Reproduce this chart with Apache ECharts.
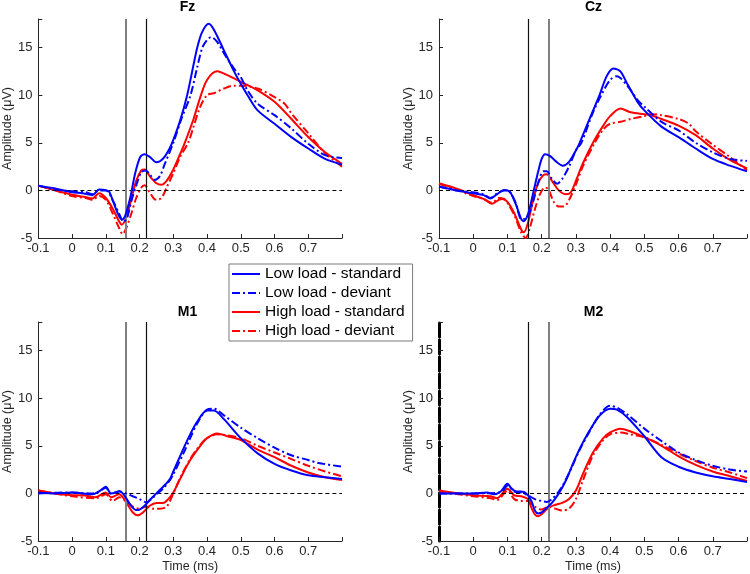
<!DOCTYPE html>
<html>
<head>
<meta charset="utf-8">
<script src="https://cdn.jsdelivr.net/npm/echarts@6/dist/echarts.min.js"></script>
<style>
html,body{margin:0;padding:0;background:#fff;}
#chart{width:750px;height:574px;}
</style>
</head>
<body>
<div id="chart"></div>
<script>
// ---------- Data (time in s, amplitude in µV) ----------
const panelTitles = ['Fz', 'Cz', 'M1', 'M2'];
const seriesNames = ['Low load - standard', 'Low load - deviant', 'High load - standard', 'High load - deviant'];
const xTicks = [-0.1, 0, 0.1, 0.2, 0.3, 0.4, 0.5, 0.6, 0.7];
const yTicks = [-5, 0, 5, 10, 15];
const markerTimes = [0.16, 0.22];

// Fz
const fzLowStd = [[-0.1,0.5],[-0.05,0.2],[0,-0.2],[0.03,-0.3],[0.06,-0.5],[0.08,0.1],[0.1,0.03],[0.11,-0.15],[0.124,-1.4],[0.139,-2.7],[0.149,-3.05],[0.158,-2.6],[0.173,-0.67],[0.187,1.8],[0.202,3.5],[0.215,3.8],[0.231,3.5],[0.25,2.95],[0.27,3.35],[0.289,4.4],[0.3,5.3],[0.32,7.3],[0.341,10.0],[0.36,13.2],[0.371,15.0],[0.385,16.6],[0.405,17.5],[0.42,16.9],[0.45,14.7],[0.48,12.5],[0.5,11.2],[0.52,10.0],[0.55,8.4],[0.6,7.0],[0.65,5.6],[0.7,4.4],[0.75,3.3],[0.8,2.7]];
const fzLowDev = [[-0.1,0.5],[-0.05,0.1],[0,-0.1],[0.04,-0.2],[0.06,-0.4],[0.08,0.0],[0.1,0.0],[0.12,-1.0],[0.14,-2.5],[0.153,-3.3],[0.163,-2.9],[0.175,-1.2],[0.19,0.5],[0.205,1.9],[0.218,2.1],[0.232,1.6],[0.245,1.1],[0.26,1.5],[0.275,2.8],[0.3,5.0],[0.325,7.6],[0.351,10.0],[0.37,12.8],[0.386,15.0],[0.4,15.8],[0.412,16.1],[0.43,15.6],[0.45,14.4],[0.48,12.8],[0.5,11.9],[0.52,10.5],[0.55,9.1],[0.6,7.9],[0.65,6.5],[0.7,4.9],[0.75,3.7],[0.8,3.4]];
const fzHighStd = [[-0.1,0.5],[-0.05,0.0],[0,-0.45],[0.04,-0.7],[0.06,-0.85],[0.08,-0.3],[0.1,-0.8],[0.12,-1.9],[0.14,-3.3],[0.147,-3.6],[0.16,-2.9],[0.175,-1.0],[0.19,1.0],[0.205,2.1],[0.215,2.2],[0.23,1.5],[0.25,0.75],[0.265,0.6],[0.28,1.0],[0.3,2.2],[0.32,3.8],[0.334,5.0],[0.36,7.5],[0.38,9.8],[0.4,11.6],[0.43,12.5],[0.46,12.1],[0.5,11.4],[0.55,10.5],[0.6,9.3],[0.65,7.5],[0.7,5.6],[0.75,4.0],[0.8,2.8]];
const fzHighDev = [[-0.1,0.5],[-0.05,0.0],[0,-0.6],[0.04,-0.8],[0.06,-1.0],[0.08,-0.6],[0.1,-1.0],[0.12,-2.4],[0.14,-4.0],[0.15,-4.6],[0.16,-4.0],[0.175,-2.5],[0.19,-0.8],[0.205,0.3],[0.215,0.55],[0.23,-0.2],[0.245,-0.95],[0.255,-1.0],[0.27,-0.5],[0.28,0.3],[0.3,1.8],[0.32,3.5],[0.344,5.0],[0.36,6.7],[0.38,8.8],[0.4,10.0],[0.42,10.2],[0.45,10.7],[0.48,11.0],[0.5,11.0],[0.55,10.7],[0.6,9.8],[0.63,9.1],[0.65,8.1],[0.7,6.0],[0.75,3.9],[0.8,2.5]];

// Cz
const czLowStd = [[-0.1,0.4],[-0.05,0.0],[0,-0.3],[0.03,-0.5],[0.05,-0.85],[0.07,-0.4],[0.09,0.05],[0.1,0.0],[0.11,-0.3],[0.125,-1.5],[0.14,-3.0],[0.147,-3.25],[0.16,-2.5],[0.175,-0.3],[0.19,2.0],[0.2,3.3],[0.21,3.8],[0.225,3.6],[0.24,3.1],[0.262,2.6],[0.28,3.0],[0.3,4.2],[0.311,5.0],[0.34,7.5],[0.369,10.0],[0.39,12.0],[0.41,12.8],[0.43,12.5],[0.45,11.2],[0.48,9.3],[0.5,8.4],[0.55,6.7],[0.6,5.6],[0.65,4.4],[0.7,3.3],[0.75,2.6],[0.8,2.0]];
const czLowDev = [[-0.1,0.4],[-0.05,0.0],[0,-0.2],[0.03,-0.4],[0.05,-0.8],[0.07,-0.3],[0.09,0.0],[0.1,0.0],[0.11,-0.3],[0.125,-1.4],[0.14,-3.0],[0.15,-3.0],[0.16,-2.7],[0.175,-1.2],[0.19,0.8],[0.205,2.0],[0.215,2.0],[0.23,1.2],[0.245,0.7],[0.26,1.2],[0.28,2.5],[0.3,4.2],[0.316,5.0],[0.35,8.2],[0.374,10.0],[0.4,11.6],[0.42,12.0],[0.45,11.0],[0.48,9.5],[0.5,8.8],[0.55,7.2],[0.6,6.3],[0.65,5.0],[0.7,4.0],[0.75,3.3],[0.8,3.1]];
const czHighStd = [[-0.1,0.75],[-0.05,0.2],[0,-0.5],[0.03,-0.9],[0.055,-1.4],[0.075,-1.0],[0.085,-0.9],[0.1,-1.2],[0.12,-2.4],[0.14,-4.1],[0.148,-4.4],[0.16,-3.4],[0.175,-1.0],[0.19,0.8],[0.205,1.6],[0.215,1.7],[0.23,1.0],[0.25,0.0],[0.27,-0.4],[0.285,-0.2],[0.3,1.0],[0.32,2.8],[0.35,5.0],[0.38,6.8],[0.4,7.8],[0.43,8.6],[0.46,8.2],[0.5,8.0],[0.52,7.9],[0.55,7.5],[0.6,6.8],[0.65,5.8],[0.7,4.4],[0.75,3.2],[0.8,2.3]];
const czHighDev = [[-0.1,0.7],[-0.05,0.1],[0,-0.6],[0.03,-0.9],[0.055,-1.3],[0.075,-0.8],[0.09,-0.9],[0.1,-1.3],[0.12,-2.6],[0.14,-4.4],[0.153,-5.0],[0.165,-4.0],[0.18,-2.0],[0.195,-0.4],[0.21,0.3],[0.22,0.1],[0.235,-1.2],[0.25,-1.7],[0.265,-1.7],[0.28,-1.0],[0.3,0.6],[0.32,2.5],[0.355,5.0],[0.38,6.4],[0.4,7.0],[0.43,7.2],[0.46,7.5],[0.5,7.8],[0.52,8.0],[0.55,7.9],[0.6,7.5],[0.63,7.0],[0.65,6.2],[0.7,4.8],[0.75,3.5],[0.8,2.1]];

// M1
const m1LowStd = [[-0.1,0.1],[-0.05,0.0],[0,0.1],[0.03,0.0],[0.06,-0.1],[0.08,0.2],[0.1,0.7],[0.115,0.0],[0.13,0.1],[0.14,0.25],[0.15,0.0],[0.16,-0.5],[0.175,-1.3],[0.19,-1.75],[0.2,-1.7],[0.215,-1.3],[0.23,-0.7],[0.25,0.0],[0.27,0.7],[0.29,1.5],[0.3,2.3],[0.33,4.7],[0.35,6.2],[0.37,7.5],[0.4,8.7],[0.42,8.7],[0.45,7.8],[0.5,5.8],[0.55,4.2],[0.6,3.1],[0.65,2.4],[0.7,1.9],[0.75,1.7],[0.8,1.5]];
const m1LowDev = [[-0.1,0.0],[0,0.1],[0.06,0.0],[0.08,0.2],[0.1,0.6],[0.115,0.0],[0.14,0.2],[0.16,0.0],[0.18,-0.3],[0.2,-0.6],[0.22,-0.95],[0.235,-0.6],[0.25,-0.1],[0.27,0.5],[0.29,1.4],[0.3,2.0],[0.33,4.2],[0.35,5.8],[0.37,7.3],[0.4,8.8],[0.42,8.9],[0.45,8.2],[0.5,6.9],[0.55,5.8],[0.6,4.8],[0.65,4.0],[0.7,3.5],[0.73,3.2],[0.8,2.8]];
const m1HighStd = [[-0.1,0.3],[-0.05,0.0],[0,-0.2],[0.03,-0.2],[0.07,-0.4],[0.1,0.1],[0.115,-0.4],[0.14,-0.1],[0.15,-0.4],[0.165,-1.2],[0.18,-2.0],[0.195,-2.3],[0.21,-2.0],[0.23,-1.3],[0.25,-1.0],[0.27,-1.0],[0.285,-0.6],[0.3,0.1],[0.32,1.5],[0.35,3.5],[0.38,5.0],[0.4,5.8],[0.43,6.3],[0.46,6.0],[0.5,5.6],[0.55,4.6],[0.6,3.8],[0.65,2.9],[0.7,2.2],[0.75,1.7],[0.8,1.4]];
const m1HighDev = [[-0.1,0.3],[0,-0.3],[0.07,-0.5],[0.1,-0.1],[0.12,-0.8],[0.14,-0.4],[0.16,-0.8],[0.18,-1.4],[0.2,-1.6],[0.22,-1.4],[0.24,-1.6],[0.26,-1.6],[0.28,-1.4],[0.3,0.0],[0.32,1.6],[0.35,3.6],[0.38,5.1],[0.4,5.8],[0.43,6.2],[0.46,6.1],[0.5,5.8],[0.55,5.0],[0.6,4.3],[0.65,3.6],[0.7,2.9],[0.75,2.3],[0.8,1.8]];

// M2
const m2LowStd = [[-0.1,0.0],[0,0.0],[0.04,0.1],[0.06,-0.1],[0.08,0.2],[0.1,1.0],[0.11,0.6],[0.125,0.2],[0.14,0.2],[0.155,0.0],[0.17,-0.8],[0.18,-1.8],[0.19,-2.1],[0.2,-2.0],[0.215,-1.5],[0.23,-1.0],[0.25,0.0],[0.27,1.3],[0.29,3.0],[0.31,4.6],[0.34,6.6],[0.37,8.2],[0.4,8.9],[0.42,8.8],[0.45,8.0],[0.5,6.0],[0.55,3.8],[0.6,2.8],[0.65,2.2],[0.7,1.8],[0.75,1.5],[0.8,1.2]];
const m2LowDev = [[-0.1,0.0],[0,0.0],[0.08,0.1],[0.1,0.8],[0.12,0.2],[0.14,0.1],[0.16,-0.2],[0.18,-0.6],[0.2,-0.8],[0.215,-0.9],[0.23,-0.6],[0.25,0.2],[0.27,1.4],[0.29,2.9],[0.31,4.5],[0.34,6.5],[0.37,8.3],[0.4,9.2],[0.42,9.0],[0.45,8.3],[0.5,6.8],[0.55,5.5],[0.6,4.3],[0.65,3.5],[0.7,2.9],[0.75,2.5],[0.8,2.3]];
const m2HighStd = [[-0.1,0.3],[0,-0.2],[0.05,-0.3],[0.07,-0.5],[0.1,0.5],[0.12,-0.2],[0.14,-0.3],[0.16,-0.6],[0.17,-1.5],[0.18,-2.2],[0.19,-2.4],[0.2,-2.2],[0.22,-1.5],[0.24,-1.2],[0.26,-1.0],[0.28,-0.6],[0.3,0.3],[0.32,2.0],[0.35,4.3],[0.38,5.8],[0.4,6.4],[0.43,6.8],[0.46,6.5],[0.5,5.9],[0.55,5.0],[0.6,3.9],[0.65,3.0],[0.7,2.3],[0.75,1.8],[0.8,1.3]];
const m2HighDev = [[-0.1,0.2],[0,-0.3],[0.05,-0.5],[0.07,-0.7],[0.1,0.3],[0.12,-0.6],[0.14,-0.8],[0.16,-0.8],[0.18,-1.4],[0.2,-1.7],[0.22,-1.4],[0.24,-1.6],[0.26,-1.8],[0.28,-1.6],[0.3,-0.6],[0.32,1.3],[0.35,4.0],[0.38,5.6],[0.4,6.2],[0.43,6.4],[0.46,6.2],[0.5,5.9],[0.55,5.1],[0.6,4.2],[0.65,3.4],[0.7,2.7],[0.75,2.2],[0.8,1.6]];

const panelData = [
  [fzLowStd, fzLowDev, fzHighStd, fzHighDev],
  [czLowStd, czLowDev, czHighStd, czHighDev],
  [m1LowStd, m1LowDev, m1HighStd, m1HighDev],
  [m2LowStd, m2LowDev, m2HighStd, m2HighDev]
];

// ---------- Styling / layout ----------
const FONT = '"Liberation Sans", Arial, Helvetica, sans-serif';
const AXC = '#262626';
const BLUE = '#0000ff', RED = '#ff0000';
const DASHDOT = [8, 3, 2, 3];
const seriesStyle = [
  {color: BLUE, type: 'solid'},
  {color: BLUE, type: DASHDOT},
  {color: RED, type: 'solid'},
  {color: RED, type: DASHDOT}
];
const grids = [
  {left: 33, top: 19, width: 309, height: 219},
  {left: 439, top: 19, width: 309, height: 219},
  {left: 33, top: 322, width: 309, height: 220},
  {left: 439, top: 322, width: 309, height: 220}
];
// which marker line is grey (thick) in each panel: index into markerTimes
const greyMarker = [0, 1, 0, 1];

const GREY_LINE = {color: '#808080', width: 2, type: 'solid', opacity: 1};
const BLACK_LINE = {color: '#111111', width: 1.2, type: 'solid', opacity: 1};

const xAxes = grids.map((g, i) => ({
  type: 'value', gridIndex: i, min: -0.1, max: 0.8, interval: 0.1,
  axisLine: {show: true, onZero: false, lineStyle: {color: AXC, width: 1}},
  axisTick: {show: true, inside: true, length: 4, lineStyle: {color: AXC}},
  splitLine: {show: false},
  axisLabel: {
    color: AXC, fontFamily: FONT, fontSize: 13, margin: 4,
    formatter: v => {
      const r = Math.round(v * 10) / 10;
      if (r > 0.75) return '';
      return xTicks.indexOf(r) >= 0 ? String(r) : '';
    }
  },
  name: i >= 2 ? 'Time (ms)' : '',
  nameLocation: 'middle', nameGap: 19,
  nameTextStyle: {color: AXC, fontFamily: FONT, fontSize: 12.5}
}));

const yAxes = grids.map((g, i) => ({
  type: 'value', gridIndex: i, min: -5, max: 18, interval: 5,
  axisLine: {show: true, onZero: false, lineStyle: i === 3 ? {color: '#000', width: 3, type: [14, 3]} : {color: AXC, width: 1}},
  axisTick: {show: true, inside: true, length: 4, lineStyle: {color: AXC}},
  splitLine: {show: false},
  axisLabel: {
    color: AXC, fontFamily: FONT, fontSize: 13, margin: 6,
    formatter: v => yTicks.indexOf(v) >= 0 ? String(v) : ''
  },
  name: 'Amplitude (μV)',
  nameLocation: 'middle', nameGap: 20, nameRotate: 90,
  nameTextStyle: {color: AXC, fontFamily: FONT, fontSize: 12.5}
}));

const series = [];
panelData.forEach((arrs, p) => {
  arrs.forEach((data, s) => {
    const ser = {
      type: 'line', name: seriesNames[s], xAxisIndex: p, yAxisIndex: p,
      data: data, symbol: 'none', smooth: 0.3,
      lineStyle: {color: seriesStyle[s].color, width: 2, type: seriesStyle[s].type},
      itemStyle: {color: seriesStyle[s].color},
      z: 3 + (3 - s)
    };
    if (s === 0) {
      ser.markLine = {
        silent: true, symbol: ['none', 'none'], animation: false,
        label: {show: false},
        emphasis: {disabled: true},
        data: [
          {yAxis: 0, lineStyle: {color: '#000', width: 1, type: [4, 3]}},
          {xAxis: markerTimes[0], lineStyle: greyMarker[p] === 0 ? GREY_LINE : BLACK_LINE},
          {xAxis: markerTimes[1], lineStyle: greyMarker[p] === 1 ? GREY_LINE : BLACK_LINE}
        ]
      };
    }
    series.push(ser);
  });
});

const titles = panelTitles.map((t, i) => ({
  text: t,
  left: grids[i].left + grids[i].width / 2,
  top: i < 2 ? 0 : 305,
  padding: 0,
  textAlign: 'center',
  textStyle: {fontFamily: FONT, fontSize: 14, fontWeight: 'bold', color: '#000'}
}));

const chart = echarts.init(document.getElementById('chart'), null, {renderer: 'canvas'});
chart.setOption({
  animation: false,
  backgroundColor: '#fff',
  title: titles,
  legend: {
    data: seriesNames,
    orient: 'vertical', left: 229, top: 264,
    itemWidth: 28, itemHeight: 14, itemGap: 3,
    padding: [2, 8, 2, 2],
    backgroundColor: '#fff', borderColor: '#7a7a7a', borderWidth: 1,
    itemStyle: {opacity: 0, borderWidth: 0},
    textStyle: {fontFamily: FONT, fontSize: 15.5, color: '#000'},
    selectedMode: false, z: 10
  },
  grid: grids,
  xAxis: xAxes,
  yAxis: yAxes,
  series: series
});
</script>
</body>
</html>
